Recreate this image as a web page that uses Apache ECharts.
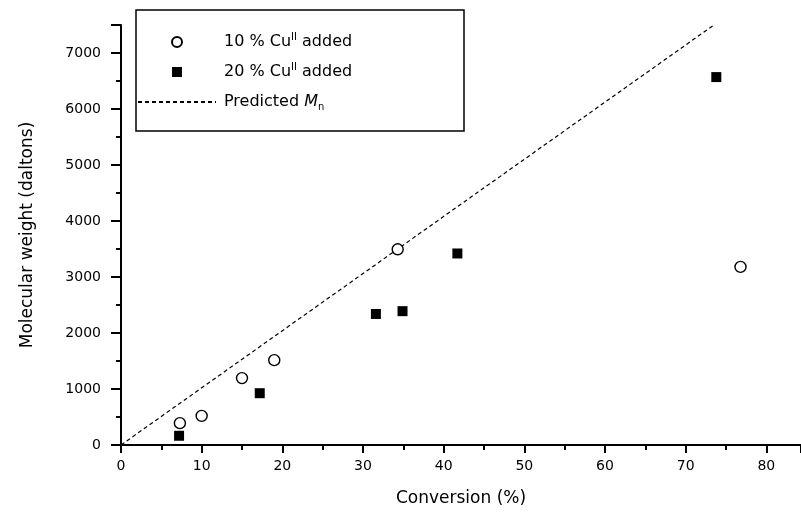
<!DOCTYPE html>
<html>
<head>
<meta charset="utf-8">
<script src="https://cdn.jsdelivr.net/npm/echarts@6/dist/echarts.min.js"></script>
<style>
  html, body { margin: 0; padding: 0; background: #fff; }
  #chart { width: 801px; height: 512px; }
</style>
</head>
<body>
<div id="chart"></div>
<script>
// conversion (%) and molecular weight (daltons)
const cu10Conversion = [7.3, 10.0, 15.0, 19.0, 34.3, 76.8];
const cu10Mw = [390, 520, 1195, 1515, 3495, 3180];

const cu20Conversion = [7.2, 17.2, 31.6, 34.9, 41.7, 73.8];
const cu20Mw = [165, 925, 2340, 2390, 3420, 6570];

// predicted Mn line end points
const predConversion = [0, 73.5];
const predMn = [0, 7500];

const seriesNames = ["10 % CuII added", "20 % CuII added", "Predicted Mn"];
const legendLabels = [
  "10 % Cu{sup|II} added",
  "20 % Cu{sup|II} added",
  "Predicted {it|M}{sub|n}"
];

const font = "DejaVu Sans";
const zip = (xs, ys) => xs.map((x, i) => [x, ys[i]]);

const chart = echarts.init(document.getElementById("chart"));

chart.setOption({
  animation: false,
  backgroundColor: "#fff",
  textStyle: { fontFamily: font, color: "#000" },
  grid: { left: 121, right: 0, top: 25, bottom: 66 },
  xAxis: {
    type: "value",
    min: 0,
    max: 84.3,
    interval: 10,
    name: "Conversion (%)",
    nameLocation: "middle",
    nameGap: 45,
    nameTextStyle: { fontSize: 17, fontFamily: font, color: "#000" },
    axisLine: { onZero: false, lineStyle: { color: "#000", width: 2 } },
    axisTick: { length: 8, lineStyle: { color: "#000", width: 2 } },
    minorTick: { show: true, splitNumber: 2, length: 5, lineStyle: { color: "#000", width: 2 } },
    axisLabel: {
      fontSize: 14,
      fontFamily: font,
      color: "#000",
      margin: 14,
      showMaxLabel: false
    },
    splitLine: { show: false }
  },
  yAxis: {
    type: "value",
    min: 0,
    max: 7500,
    interval: 1000,
    name: "Molecular weight (daltons)",
    nameLocation: "middle",
    nameGap: 85,
    nameTextStyle: { fontSize: 17, fontFamily: font, color: "#000" },
    axisLine: { onZero: false, lineStyle: { color: "#000", width: 2 } },
    axisTick: { length: 10, lineStyle: { color: "#000", width: 2 } },
    minorTick: { show: true, splitNumber: 2, length: 5, lineStyle: { color: "#000", width: 2 } },
    axisLabel: {
      fontSize: 14,
      fontFamily: font,
      color: "#000",
      margin: 20,
      showMaxLabel: false,
      formatter: (v) => String(v)
    },
    splitLine: { show: false }
  },
  legend: {
    left: 137,
    top: 32,
    orient: "vertical",
    padding: 0,
    itemGap: 10,
    itemWidth: 78,
    itemHeight: 10,
    data: [
      { name: seriesNames[0] },
      { name: seriesNames[1], icon: "path://M0,0H10V10H0Z" },
      { name: seriesNames[2] }
    ],
    formatter: (name) => legendLabels[seriesNames.indexOf(name)],
    textStyle: {
      fontSize: 16,
      fontFamily: font,
      color: "#000",
      lineHeight: 20,
      padding: [0, 0, 0, 3],
      rich: {
        sup: { fontSize: 10, fontFamily: font, verticalAlign: "top", lineHeight: 20 },
        sub: { fontSize: 10, fontFamily: font, verticalAlign: "bottom", lineHeight: 20 },
        it: { fontSize: 16, fontFamily: font, fontStyle: "italic", lineHeight: 20 }
      }
    }
  },
  graphic: [
    {
      type: "rect",
      shape: { x: 136, y: 10, width: 328, height: 121 },
      style: { fill: null, stroke: "#000", lineWidth: 1.5 },
      z: 100
    }
  ],
  series: [
    {
      name: seriesNames[0],
      type: "scatter",
      symbol: "circle",
      symbolSize: 11,
      itemStyle: { color: "#fff", borderColor: "#000", borderWidth: 1.4, opacity: 1 },
      data: zip(cu10Conversion, cu10Mw),
      z: 3
    },
    {
      name: seriesNames[1],
      type: "scatter",
      symbol: "rect",
      symbolSize: 10,
      itemStyle: { color: "#000", opacity: 1 },
      data: zip(cu20Conversion, cu20Mw),
      z: 3
    },
    {
      name: seriesNames[2],
      type: "line",
      symbol: "none",
      lineStyle: { color: "#000", width: 1.2, type: [4, 3] },
      itemStyle: { color: "rgba(0,0,0,0)", borderWidth: 0 },
      data: zip(predConversion, predMn),
      z: 2
    }
  ]
});
</script>
</body>
</html>
